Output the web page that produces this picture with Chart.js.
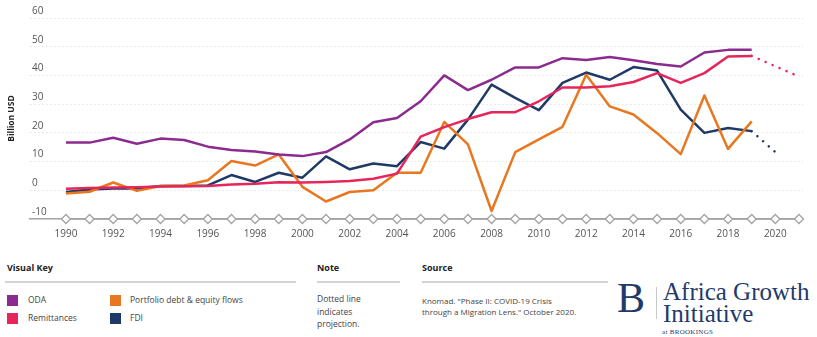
<!DOCTYPE html>
<html>
<head>
<meta charset="utf-8">
<script src="https://cdn.jsdelivr.net/npm/chart.js@4.4.0/dist/chart.umd.min.js"></script>
<style>
  html,body{margin:0;padding:0;background:#fff;}
  #wrap{position:relative;width:817px;height:337px;overflow:hidden;font-family:"Open Sans",sans-serif;color:#444;}
  #chart{position:absolute;left:0;top:0;}
  .hd{position:absolute;top:261px;font-size:9px;font-weight:700;color:#222;}
  .rule{position:absolute;top:281px;height:2px;background:#d4d4d4;}
  .txt{position:absolute;font-size:8.5px;line-height:12.5px;color:#444;}
  .sw{position:absolute;width:11px;height:11px;}
  .lg{position:absolute;font-size:8.5px;color:#444;line-height:12px;}
  .logo{position:absolute;font-family:"Liberation Serif","DejaVu Serif",serif;color:#1f3a6b;}
</style>
</head>
<body>
<div id="wrap">
  <canvas id="chart" width="817" height="245"></canvas>

  <div class="hd" style="left:7px">Visual Key</div>
  <div class="rule" style="left:5px;width:291px"></div>
  <div id="legend"></div>

  <div class="hd" style="left:317px">Note</div>
  <div class="rule" style="left:317px;width:83px"></div>
  <div class="txt" style="left:317px;top:293px">Dotted line<br>indicates<br>projection.</div>

  <div class="hd" style="left:422px">Source</div>
  <div class="rule" style="left:422px;width:186px"></div>
  <div class="txt" style="left:422px;top:295px;font-size:8px;line-height:11px">Knomad. "Phase II: COVID-19 Crisis<br>through a Migration Lens." October 2020.</div>

  <div class="logo" style="left:617px;top:277px;font-size:42px;line-height:42px">B</div>
  <div style="position:absolute;left:656px;top:287px;width:1px;height:32px;background:#c8c8c8"></div>
  <div class="logo" style="left:663px;top:281px;font-size:25px;line-height:22px">Africa Growth<br>Initiative</div>
  <div class="logo" style="left:662px;top:328px;font-size:7px;line-height:8px;letter-spacing:0.3px">at BROOKINGS</div>
</div>
<script>
// data (billion USD)
const years = [1990,1991,1992,1993,1994,1995,1996,1997,1998,1999,2000,2001,2002,2003,2004,
               2005,2006,2007,2008,2009,2010,2011,2012,2013,2014,2015,2016,2017,2018,2019];
const oda = [16.6,16.6,18.3,16.2,18.0,17.5,15.2,14.0,13.5,12.5,11.9,13.3,17.7,23.7,25.2,
             31.0,40.0,34.9,38.5,42.8,42.8,46.0,45.4,46.4,45.3,44.0,43.1,48.0,48.9,48.9];
const remittances = [0.5,0.8,1.0,1.1,1.3,1.4,1.5,2.0,2.3,2.8,2.7,2.9,3.2,4.0,5.8,
                     18.7,22.0,24.8,27.2,27.2,31.0,35.8,35.8,36.2,37.7,40.8,37.4,40.8,46.6,46.8];
const portfolio = [-1.1,-0.5,2.7,-0.2,1.5,1.7,3.5,10.2,8.6,12.5,1.2,-3.9,-0.6,0.0,6.1,
                   6.1,23.8,16.0,-7.2,13.3,17.7,22.1,40.2,29.2,26.4,19.9,12.6,33.0,14.4,24.0];
const fdi = [-0.6,0.3,0.6,0.6,1.5,1.5,1.7,5.3,2.9,6.1,4.4,11.8,7.3,9.3,8.4,
             16.8,14.5,24.6,36.8,32.2,27.9,37.4,41.0,38.5,42.9,41.7,28.1,20.0,21.7,20.6];

// projections (dotted)
const remitProjYears = [2019,2020,2021];
const remitProj = [46.8,43.2,39.6];
const fdiProjYears = [2019,2020];
const fdiProj = [20.6,13.3];

// axis markers and tick labels
const markerYears = [1990,1991,1992,1993,1994,1995,1996,1997,1998,1999,2000,2001,2002,2003,2004,2005,
                     2006,2007,2008,2009,2010,2011,2012,2013,2014,2015,2016,2017,2018,2019,2020,2021];
const xTickYears = [1990,1992,1994,1996,1998,2000,2002,2004,2006,2008,2010,2012,2014,2016,2018,2020];
const yTicks = [-10,0,10,20,30,40,50,60];

const seriesNames = ['ODA','Remittances','Portfolio debt & equity flows','FDI'];
const seriesColors = ['#8b2b8f','#e5265b','#e8771f','#1f3a66'];

// legend
const legendPos = [[7,295,28],[7,313,28],[110,295,130],[110,313,130]];
const lg = document.getElementById('legend');
seriesNames.forEach((n,i)=>{
  const [sx,sy,tx] = legendPos[i];
  lg.insertAdjacentHTML('beforeend',
    `<div class="sw" style="left:${sx}px;top:${sy}px;background:${seriesColors[i]}"></div>
     <div class="lg" style="left:${tx}px;top:${sy-1}px">${n}</div>`);
});

const pts = (xs, ys) => xs.map((x,i)=>({x, y: ys[i]}));
const line = (label, data, color, dotted) => ({
  label, data, borderColor: color, backgroundColor: color,
  borderWidth: 2.5, pointRadius: 0, tension: 0,
  borderCapStyle: dotted ? 'round' : 'butt',
  borderJoinStyle: 'round',
  borderDash: dotted ? [0.1, 7.5] : []
});

new Chart(document.getElementById('chart'), {
  type: 'line',
  data: {
    datasets: [
      line(seriesNames[0], pts(years, oda), seriesColors[0]),
      line(seriesNames[1], pts(years, remittances), seriesColors[1]),
      line(seriesNames[2], pts(years, portfolio), seriesColors[2]),
      line(seriesNames[3], pts(years, fdi), seriesColors[3]),
      line('Remittances projection', pts(remitProjYears, remitProj), seriesColors[1], true),
      line('FDI projection', pts(fdiProjYears, fdiProj), seriesColors[3], true),
      {
        label: 'axis', data: markerYears.map(x=>({x, y: -10})),
        clip: false,
        borderColor: '#a3a3a3', borderWidth: 1.5,
        pointStyle: 'rectRot', pointRadius: 4.5,
        pointBackgroundColor: '#fff', pointBorderColor: '#a3a3a3', pointBorderWidth: 1.3
      }
    ]
  },
  options: {
    responsive: false,
    animation: false,
    devicePixelRatio: 1,
    layout: { padding: { top: 18, right: 14, bottom: 0, left: 0 } },
    plugins: { legend: { display: false }, tooltip: { enabled: false } },
    scales: {
      x: {
        type: 'linear', min: 1988.48, max: 2021.17,
        afterBuildTicks: s => { s.ticks = xTickYears.map(v=>({value: v})); },
        afterFit: s => { s.height = 26; },
        grid: { display: false, drawTicks: false },
        border: { display: true, color: '#a3a3a3', width: 1.5 },
        ticks: {
          autoSkip: false, maxRotation: 0, padding: 9, color: '#555',
          font: { family: 'Open Sans', size: 10 },
          callback: v => String(v)
        }
      },
      y: {
        min: -10, max: 60,
        afterBuildTicks: s => { s.ticks = yTicks.map(v=>({value: v})); },
        afterFit: s => { s.width = 30; },
        grid: {
          drawTicks: false, lineWidth: 1,
          color: c => c.tick && c.tick.value === -10 ? 'rgba(0,0,0,0)' : '#e2e2e2'
        },
        border: { display: false, dash: [1.5,2.5] },
        ticks: {
          mirror: true, padding: 2, labelOffset: -7, color: '#555',
          font: { family: 'Open Sans', size: 10 }
        },
        title: {
          display: true, text: 'Billion USD', color: '#222',
          font: { family: 'Open Sans', size: 8.5, weight: 'bold' },
          padding: { top: 6, bottom: 0 }
        }
      }
    }
  }
});
</script>
</body>
</html>
